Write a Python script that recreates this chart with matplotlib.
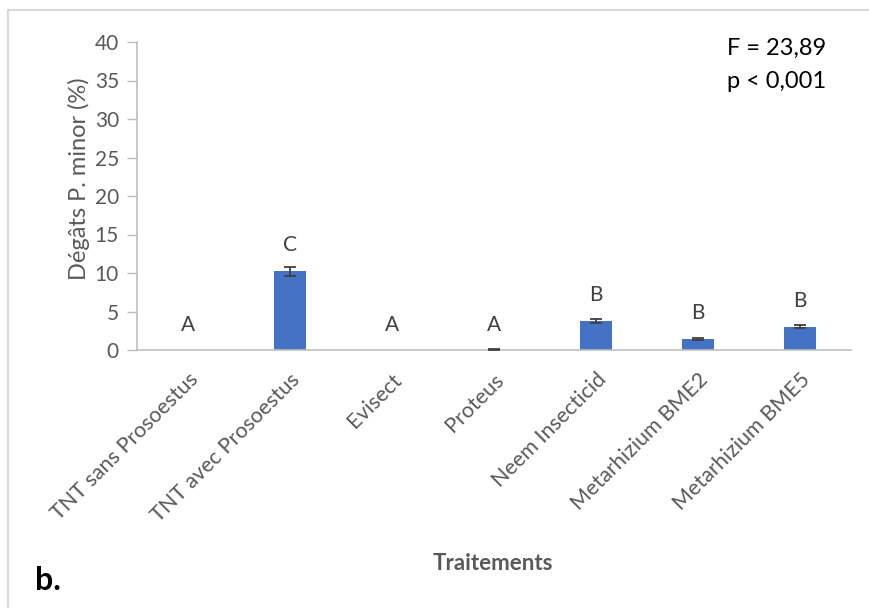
import matplotlib.pyplot as plt
from matplotlib.lines import Line2D

# Damage by P. minor per treatment
traitements = ["TNT sans Prosoestus", "TNT avec Prosoestus", "Evisect", "Proteus",
               "Neem Insecticid", "Metarhizium BME2", "Metarhizium BME5"]
degats = [0.0, 10.2, 0.0, 0.05, 3.75, 1.4, 3.05]
erreurs = [0.0, 0.62, 0.0, 0.05, 0.28, 0.1, 0.22]
lettres = ["A", "C", "A", "A", "B", "B", "B"]
pos_lettres = [3.25, 13.6, 3.25, 3.25, 7.15, 4.8, 6.3]
yticks = [0, 5, 10, 15, 20, 25, 30, 35, 40]

plt.rcParams['font.family'] = ['Lato', 'DejaVu Sans']
gris = "#595959"
bleu = "#4472C4"

fig = plt.figure(figsize=(8.69, 6.08), dpi=100)
ax = fig.add_axes([137 / 869, 1 - 350 / 608, 714 / 869, 308 / 608])

x = list(range(len(traitements)))
ax.bar(x, degats, width=0.31, color=bleu, zorder=2)

# error bars only where there is a spread
xe = [xi for xi, e in zip(x, erreurs) if e > 0]
ye = [d for d, e in zip(degats, erreurs) if e > 0]
ee = [e for e in erreurs if e > 0]
ax.errorbar(xe, ye, yerr=ee, fmt="none", ecolor="#404040",
            elinewidth=1.3, capsize=4, capthick=1.3, zorder=3)

for xi, lettre, yl in zip(x, lettres, pos_lettres):
    ax.text(xi, yl, lettre, ha="center", va="center", fontsize=15, color="#404040")

ax.set_xlim(-0.5, len(traitements) - 0.5)
ax.set_ylim(0, 40)
ax.set_yticks(yticks)
ax.set_xticks(x)
ax.set_xticklabels(traitements, rotation=45, ha="right", rotation_mode="anchor",
                   fontsize=15.5, color=gris)
ax.tick_params(axis="x", length=0, pad=14)
ax.tick_params(axis="y", length=7, width=1, color="#BFBFBF", labelsize=15,
               labelcolor=gris, pad=6)

for side in ["top", "right"]:
    ax.spines[side].set_visible(False)
for side in ["left", "bottom"]:
    ax.spines[side].set_color("#BFBFBF")
    ax.spines[side].set_linewidth(1.2)

ax.set_ylabel("Dégâts P. minor (%)", fontsize=17, color=gris)
ax.yaxis.set_label_coords(-0.066, 0.555)

fig.text(493 / 869, 1 - 563 / 608, "Traitements", ha="center", va="center",
         fontsize=16, fontweight="bold", color=gris)
fig.text(35 / 869, 1 - 580 / 608, "b.", ha="left", va="center",
         fontsize=23, fontweight="bold", color="black")
fig.text(727 / 869, 1 - 48 / 608, "F = 23,89", ha="left", va="center",
         fontsize=17, color="black")
fig.text(727 / 869, 1 - 81 / 608, "p < 0,001", ha="left", va="center",
         fontsize=17, color="black")

# chart frame, only top and left edges are visible
fig.add_artist(Line2D([8 / 869, 8 / 869], [0, 1 - 10 / 608], color="#D9D9D9",
                      lw=1.5, transform=fig.transFigure))
fig.add_artist(Line2D([8 / 869, 1], [1 - 10 / 608, 1 - 10 / 608], color="#D9D9D9",
                      lw=1.5, transform=fig.transFigure))

fig.savefig("out.png", dpi=100, facecolor="white")
